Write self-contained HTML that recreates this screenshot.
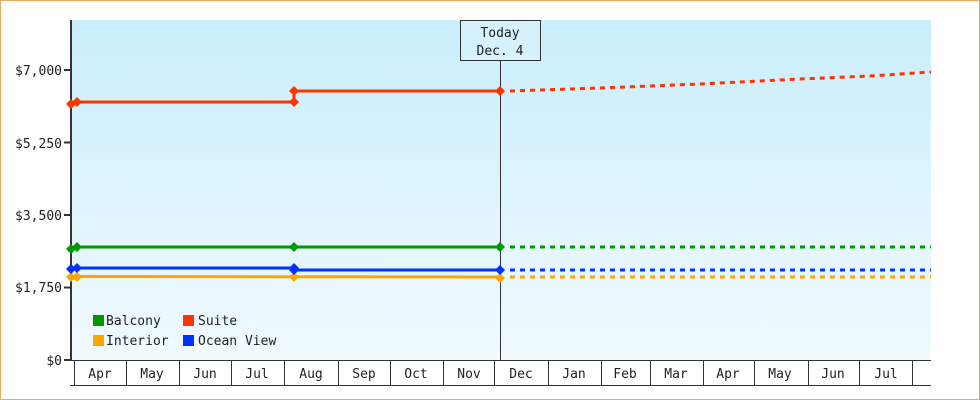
<!DOCTYPE html>
<html><head><style>
html,body{margin:0;padding:0;background:#fff}
svg{display:block}
text{font-family:"DejaVu Sans Mono","Liberation Mono",monospace;font-size:13px;fill:#222}
</style></head><body>
<svg width="980" height="400" viewBox="0 0 980 400" xmlns="http://www.w3.org/2000/svg">
<defs>
<linearGradient id="bg" x1="0" y1="0" x2="0" y2="1">
<stop offset="0" stop-color="#c9eefc"/><stop offset="1" stop-color="#f1faff"/>
</linearGradient>
<g id="d"><polygon points="0,-5 5,0 0,5 -5,0"/></g>
</defs>
<rect x="0.5" y="0.5" width="979" height="399" fill="#fff" stroke="#e8aa66"/>
<rect x="71" y="20" width="860" height="340" fill="url(#bg)"/>
<line x1="71" y1="20" x2="71" y2="361" stroke="#333" stroke-width="2"/>
<g stroke="#333" stroke-width="2">
<line x1="64" y1="70" x2="71" y2="70"/><line x1="64" y1="142.5" x2="71" y2="142.5"/>
<line x1="64" y1="215" x2="71" y2="215"/><line x1="64" y1="287.5" x2="71" y2="287.5"/>
<line x1="64" y1="360" x2="71" y2="360"/></g>
<g text-anchor="end">
<text x="62" y="75">$7,000</text><text x="62" y="148">$5,250</text>
<text x="62" y="220">$3,500</text><text x="62" y="292">$1,750</text><text x="62" y="365">$0</text></g>
<line x1="70" y1="360.5" x2="931" y2="360.5" stroke="#333"/>
<line x1="70" y1="385.5" x2="931" y2="385.5" stroke="#333"/>
<g stroke="#333">
<line x1="74.5" y1="360" x2="74.5" y2="385"/><line x1="126.5" y1="360" x2="126.5" y2="385"/>
<line x1="179.5" y1="360" x2="179.5" y2="385"/><line x1="231.5" y1="360" x2="231.5" y2="385"/>
<line x1="284.5" y1="360" x2="284.5" y2="385"/><line x1="338.5" y1="360" x2="338.5" y2="385"/>
<line x1="390.5" y1="360" x2="390.5" y2="385"/><line x1="443.5" y1="360" x2="443.5" y2="385"/>
<line x1="494.5" y1="360" x2="494.5" y2="385"/><line x1="548.5" y1="360" x2="548.5" y2="385"/>
<line x1="601.5" y1="360" x2="601.5" y2="385"/><line x1="650.5" y1="360" x2="650.5" y2="385"/>
<line x1="703.5" y1="360" x2="703.5" y2="385"/><line x1="754.5" y1="360" x2="754.5" y2="385"/>
<line x1="808.5" y1="360" x2="808.5" y2="385"/><line x1="859.5" y1="360" x2="859.5" y2="385"/>
<line x1="912.5" y1="360" x2="912.5" y2="385"/></g>
<g text-anchor="middle">
<text x="100" y="378">Apr</text><text x="152" y="378">May</text><text x="205" y="378">Jun</text>
<text x="257" y="378">Jul</text><text x="311" y="378">Aug</text><text x="364" y="378">Sep</text>
<text x="416" y="378">Oct</text><text x="469" y="378">Nov</text><text x="521" y="378">Dec</text>
<text x="574" y="378">Jan</text><text x="625" y="378">Feb</text><text x="676" y="378">Mar</text>
<text x="728" y="378">Apr</text><text x="780" y="378">May</text><text x="833" y="378">Jun</text>
<text x="886" y="378">Jul</text></g>
<line x1="500.5" y1="61" x2="500.5" y2="360" stroke="#333"/>
<rect x="460.5" y="20.5" width="80" height="40" fill="#d4f1fc" stroke="#333"/>
<text x="500" y="37" text-anchor="middle">Today</text>
<text x="500" y="55" text-anchor="middle">Dec. 4</text>
<g fill="none" stroke-width="3">
<polyline stroke="#ff3300" points="71,103 77,102 294,102 294,91 500,91"/>
<polyline stroke="#009900" points="71,248 77,247 500,247"/>
<polyline stroke="#0033ff" points="71,269 77,268 294,268 294,270 500,270"/>
<polyline stroke="#ffa500" points="71,277 77,276.5 500,277"/>
</g>
<g fill="none" stroke-width="3" stroke-dasharray="5,5">
<polyline stroke="#ff3300" points="510,91 600,88 700,84 800,79 870,76 931,72"/>
<line stroke="#009900" x1="510" y1="247" x2="931" y2="247"/>
<line stroke="#0033ff" x1="510" y1="270" x2="931" y2="270"/>
<line stroke="#ffa500" x1="510" y1="277" x2="931" y2="277"/>
</g>
<g fill="#ff3300"><use href="#d" x="71" y="104"/><use href="#d" x="77" y="102"/><use href="#d" x="294" y="102"/><use href="#d" x="294" y="91"/><use href="#d" x="500" y="91"/></g>
<g fill="#009900"><use href="#d" x="71" y="249"/><use href="#d" x="77" y="247"/><use href="#d" x="294" y="247"/><use href="#d" x="500" y="247"/></g>
<g fill="#ffa500"><use href="#d" x="71" y="277"/><use href="#d" x="77" y="277"/><use href="#d" x="294" y="277"/><use href="#d" x="500" y="278"/></g>
<g fill="#0033ff"><use href="#d" x="71" y="269"/><use href="#d" x="77" y="268"/><use href="#d" x="294" y="268"/><use href="#d" x="294" y="270"/><use href="#d" x="500" y="270"/></g>
<rect x="93" y="315" width="11" height="11" fill="#009900"/><text x="106" y="325">Balcony</text>
<rect x="183" y="315" width="11" height="11" fill="#ff3300"/><text x="198" y="325">Suite</text>
<rect x="93" y="335" width="11" height="11" fill="#ffa500"/><text x="106" y="345">Interior</text>
<rect x="183" y="335" width="11" height="11" fill="#0033ff"/><text x="198" y="345">Ocean View</text>
</svg>
</body></html>
